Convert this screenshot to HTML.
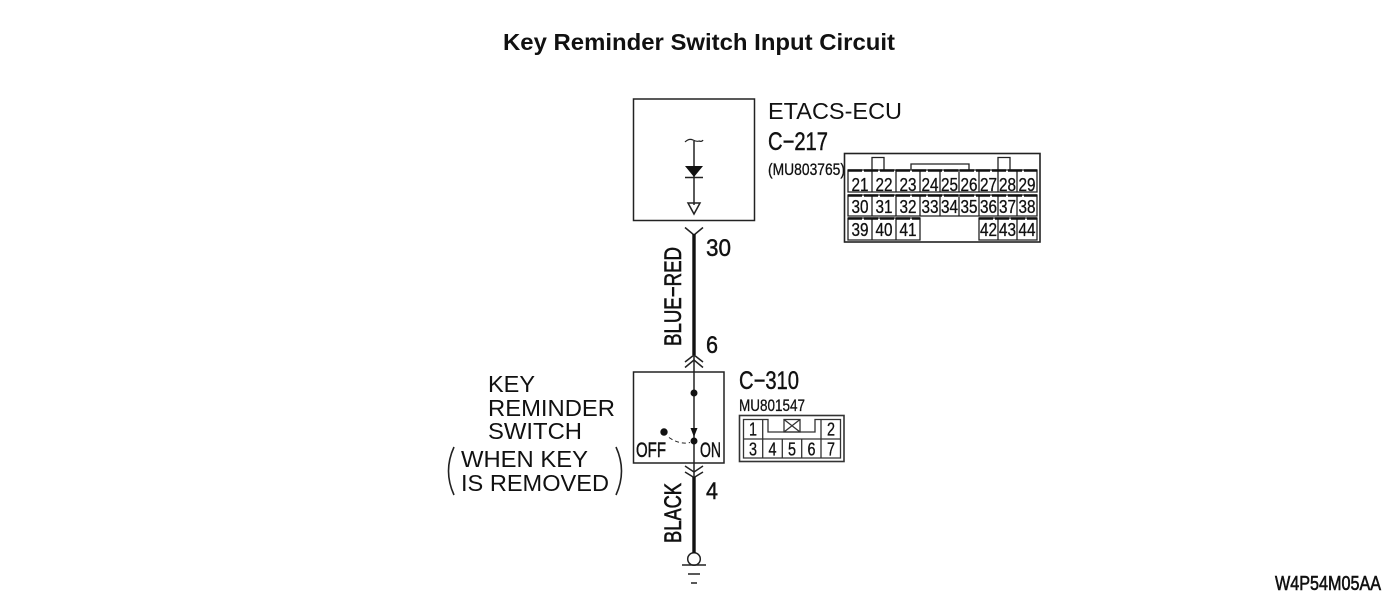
<!DOCTYPE html>
<html><head><meta charset="utf-8">
<style>
html,body{margin:0;padding:0;background:#fff;width:1400px;height:614px;overflow:hidden}
svg{display:block}
text{font-family:"Liberation Sans",sans-serif;fill:#111}
.k{stroke:#111;stroke-width:.45}
.n{font-size:18px;text-anchor:middle;stroke:#111;stroke-width:.3}
</style></head><body>
<svg width="1400" height="614" viewBox="0 0 1400 614" xmlns="http://www.w3.org/2000/svg">
<text x="503" y="50" font-size="23" font-weight="bold" textLength="392" lengthAdjust="spacingAndGlyphs" fill="#000">Key Reminder Switch Input Circuit</text>

<g fill="none" stroke="#222" stroke-width="1.500">
<rect x="633.500" y="99" width="121" height="121.500"/>
<path d="M694 141V205"/>
<path d="M685 142q4-4 8-2t6 1q3 1 4-1" stroke-width="1.200"/>
<path d="M685 177.500H703"/>
<path d="M688 203H700L694 214Z"/>
<path d="M685 227.500L694 235L703 227.500"/>
<path d="M633.500 372H724V463H633.500Z"/>
<path d="M694 355V480"/>
<path d="M685 362L694 355L703 362M685 367.500L694 360L703 367.500"/>
<path d="M685 466L694 472L703 466M685 472L694 477.500L703 472"/>
<path d="M669 437.500Q680 445 690 442.500" stroke-dasharray="4 3" stroke-width="1"/>
<path d="M682 565H706M688 574H700M691 583H697"/>
<circle cx="694" cy="559" r="6.300" stroke-width="1.500"/>
</g>
<path d="M694 234V355M694 477V553" stroke="#111" stroke-width="3.400" fill="none"/>
<path d="M685 166H703L694 177Z" fill="#111"/>
<path d="M690.500 428H697.500L694 437Z" fill="#111"/>
<circle cx="694" cy="393" r="3.500" fill="#111"/>
<circle cx="694" cy="441" r="3.500" fill="#111"/>
<circle cx="664" cy="432" r="3.700" fill="#111"/>

<text x="768" y="119" font-size="23.500" textLength="134" lengthAdjust="spacingAndGlyphs">ETACS-ECU</text>
<text class="k" x="768" y="150" font-size="25" textLength="60" lengthAdjust="spacingAndGlyphs">C−217</text>
<text class="k" x="768" y="175" font-size="16.500" textLength="77" lengthAdjust="spacingAndGlyphs" style="stroke-width:.3">(MU803765)</text>
<text class="k" x="706" y="256" font-size="24" textLength="25" lengthAdjust="spacingAndGlyphs">30</text>
<text class="k" x="706" y="353" font-size="24" textLength="12" lengthAdjust="spacingAndGlyphs">6</text>
<text class="k" x="706" y="499" font-size="24" textLength="12" lengthAdjust="spacingAndGlyphs">4</text>
<text class="k" x="739" y="389" font-size="25" textLength="60" lengthAdjust="spacingAndGlyphs">C−310</text>
<text class="k" x="739" y="411" font-size="16.500" textLength="66" lengthAdjust="spacingAndGlyphs" style="stroke-width:.3">MU801547</text>
<text class="k" x="636" y="457" font-size="21" textLength="30" lengthAdjust="spacingAndGlyphs">OFF</text>
<text class="k" x="700" y="457" font-size="21" textLength="21" lengthAdjust="spacingAndGlyphs">ON</text>
<text class="k" transform="translate(681,346) rotate(-90)" font-size="24" textLength="99" lengthAdjust="spacingAndGlyphs" style="stroke-width:.6">BLUE−RED</text>
<text class="k" transform="translate(681,543) rotate(-90)" font-size="24" textLength="60" lengthAdjust="spacingAndGlyphs" style="stroke-width:.6">BLACK</text>

<text x="488" y="392" font-size="23.500" textLength="47" lengthAdjust="spacingAndGlyphs">KEY</text>
<text x="488" y="416" font-size="23.500" textLength="127" lengthAdjust="spacingAndGlyphs">REMINDER</text>
<text x="488" y="439" font-size="23.500" textLength="94" lengthAdjust="spacingAndGlyphs">SWITCH</text>
<text x="461" y="467" font-size="23.500" textLength="127" lengthAdjust="spacingAndGlyphs">WHEN KEY</text>
<text x="461" y="491" font-size="23.500" textLength="148" lengthAdjust="spacingAndGlyphs">IS REMOVED</text>
<path d="M454 447Q443 471 454 495M616 447Q627 471 616 495" fill="none" stroke="#222" stroke-width="1.600"/>

<text class="k" x="1275" y="590" font-size="20" textLength="106" lengthAdjust="spacingAndGlyphs" style="stroke-width:.6">W4P54M05AA</text>

<!-- C-217 connector -->
<g fill="none" stroke="#222" stroke-width="1.300">
<rect x="844.500" y="153.500" width="195.500" height="88.500" stroke-width="1.600"/>
<path d="M872 170V157.500H884V170M998 170V157.500H1010V170M911 170V164H969V170"/>
<path d="M848 170H1037V192H848ZM848 195H1037V216H848ZM848 218H920V240H848ZM979 218H1037V240H979Z"/>
<path d="M872 170V192M896 170V192M920 170V192M940 170V192M959 170V192M979 170V192M998 170V192M1017 170V192"/>
<path d="M872 195V216M896 195V216M920 195V216M940 195V216M959 195V216M979 195V216M998 195V216M1017 195V216"/>
<path d="M872 218V240M896 218V240M998 218V240M1017 218V240"/>
</g>
<path d="M848 170.500H1037M848 195.500H1037M848 218.500H920M979 218.500H1037" stroke="#111" stroke-width="2.500" stroke-dasharray="14 2" fill="none"/>
<g>
<text class="n" x="860" y="191" textLength="17" lengthAdjust="spacingAndGlyphs">21</text><text class="n" x="884" y="191" textLength="17" lengthAdjust="spacingAndGlyphs">22</text><text class="n" x="908" y="191" textLength="17" lengthAdjust="spacingAndGlyphs">23</text><text class="n" x="930" y="191" textLength="17" lengthAdjust="spacingAndGlyphs">24</text><text class="n" x="949.500" y="191" textLength="17" lengthAdjust="spacingAndGlyphs">25</text><text class="n" x="969" y="191" textLength="17" lengthAdjust="spacingAndGlyphs">26</text><text class="n" x="988.500" y="191" textLength="17" lengthAdjust="spacingAndGlyphs">27</text><text class="n" x="1007.500" y="191" textLength="17" lengthAdjust="spacingAndGlyphs">28</text><text class="n" x="1027" y="191" textLength="17" lengthAdjust="spacingAndGlyphs">29</text>
<text class="n" x="860" y="213" textLength="17" lengthAdjust="spacingAndGlyphs">30</text><text class="n" x="884" y="213" textLength="17" lengthAdjust="spacingAndGlyphs">31</text><text class="n" x="908" y="213" textLength="17" lengthAdjust="spacingAndGlyphs">32</text><text class="n" x="930" y="213" textLength="17" lengthAdjust="spacingAndGlyphs">33</text><text class="n" x="949.500" y="213" textLength="17" lengthAdjust="spacingAndGlyphs">34</text><text class="n" x="969" y="213" textLength="17" lengthAdjust="spacingAndGlyphs">35</text><text class="n" x="988.500" y="213" textLength="17" lengthAdjust="spacingAndGlyphs">36</text><text class="n" x="1007.500" y="213" textLength="17" lengthAdjust="spacingAndGlyphs">37</text><text class="n" x="1027" y="213" textLength="17" lengthAdjust="spacingAndGlyphs">38</text>
<text class="n" x="860" y="236" textLength="17" lengthAdjust="spacingAndGlyphs">39</text><text class="n" x="884" y="236" textLength="17" lengthAdjust="spacingAndGlyphs">40</text><text class="n" x="908" y="236" textLength="17" lengthAdjust="spacingAndGlyphs">41</text><text class="n" x="988.500" y="236" textLength="17" lengthAdjust="spacingAndGlyphs">42</text><text class="n" x="1007.500" y="236" textLength="17" lengthAdjust="spacingAndGlyphs">43</text><text class="n" x="1027" y="236" textLength="17" lengthAdjust="spacingAndGlyphs">44</text>
</g>

<!-- C-310 connector -->
<g fill="none" stroke="#333" stroke-width="1.300">
<rect x="739.500" y="415.500" width="104.500" height="46" stroke-width="1.600"/>
<path d="M743.500 419.500H768V432H815V419.500H840.500V458H743.500Z"/>
<path d="M743.500 439H840.500M762.700 419.500V458M782.300 439V458M801.700 439V458M821 419.500V458"/>
<path d="M784 419.500H800V432H784ZM784 419.500L800 432M800 419.500L784 432"/>
</g>
<text class="n" x="753" y="435.500" textLength="8" lengthAdjust="spacingAndGlyphs">1</text><text class="n" x="831" y="435.500" textLength="8" lengthAdjust="spacingAndGlyphs">2</text>
<text class="n" x="753" y="455.500" textLength="8" lengthAdjust="spacingAndGlyphs">3</text><text class="n" x="772.500" y="455.500" textLength="8" lengthAdjust="spacingAndGlyphs">4</text><text class="n" x="792" y="455.500" textLength="8" lengthAdjust="spacingAndGlyphs">5</text><text class="n" x="811.500" y="455.500" textLength="8" lengthAdjust="spacingAndGlyphs">6</text><text class="n" x="831" y="455.500" textLength="8" lengthAdjust="spacingAndGlyphs">7</text>
</svg>
</body></html>
